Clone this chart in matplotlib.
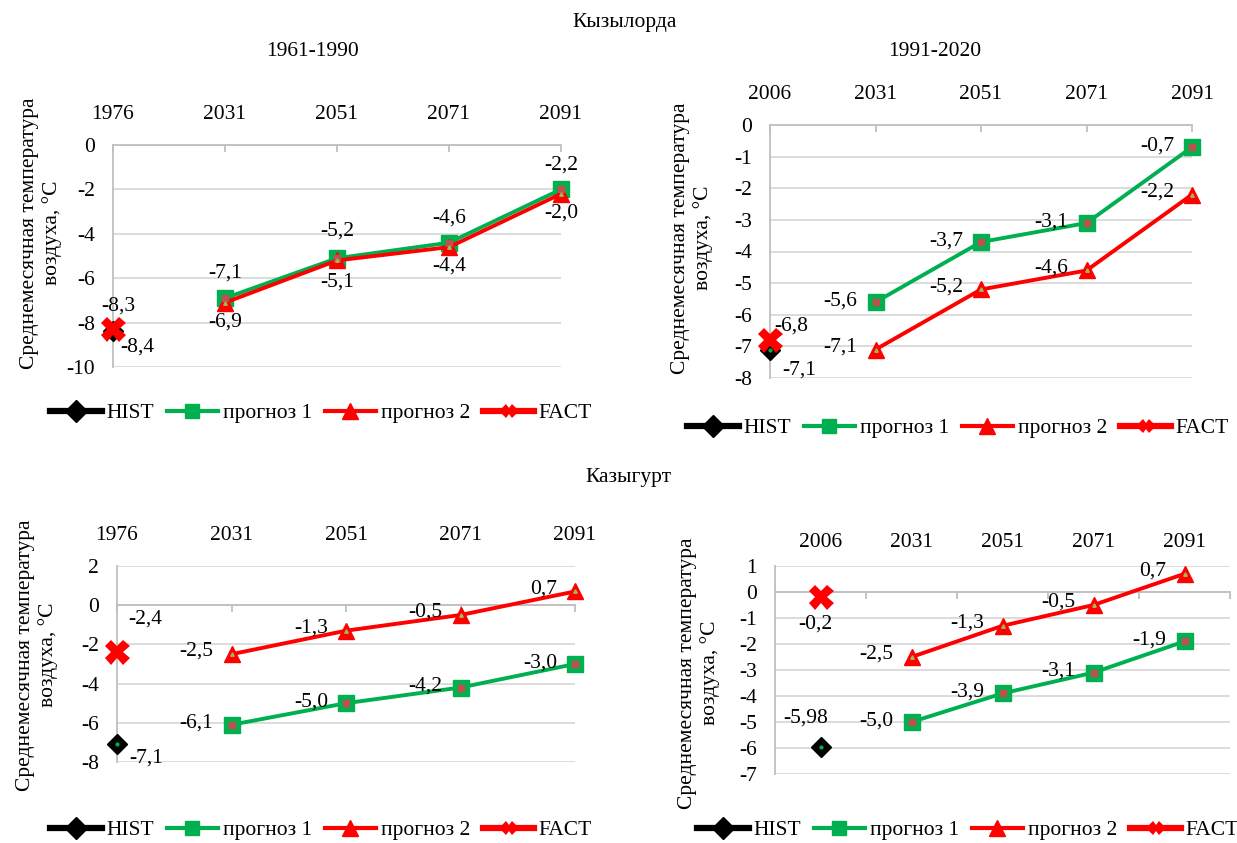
import matplotlib.pyplot as plt
from matplotlib.lines import Line2D

plt.rcParams['font.family'] = ['Liberation Serif', 'DejaVu Serif']
plt.rcParams['font.size'] = 15.5

W, H = 1237, 843

# Кызылорда, 1961-1990
kz1_years = ['1976', '2031', '2051', '2071', '2091']
kz1_hist = -8.4
kz1_fact = -8.3
kz1_p1 = [-6.9, -5.1, -4.4, -2.0]
kz1_p2 = [-7.1, -5.2, -4.6, -2.2]

# Кызылорда, 1991-2020
kz2_years = ['2006', '2031', '2051', '2071', '2091']
kz2_hist = -7.1
kz2_fact = -6.8
kz2_p1 = [-5.6, -3.7, -3.1, -0.7]
kz2_p2 = [-7.1, -5.2, -4.6, -2.2]

# Казыгурт, 1961-1990
kg1_years = ['1976', '2031', '2051', '2071', '2091']
kg1_hist = -7.1
kg1_fact = -2.4
kg1_p1 = [-6.1, -5.0, -4.2, -3.0]
kg1_p2 = [-2.5, -1.3, -0.5, 0.7]

# Казыгурт, 1991-2020
kg2_years = ['2006', '2031', '2051', '2071', '2091']
kg2_hist = -5.98
kg2_fact = -0.2
kg2_p1 = [-5.0, -3.9, -3.1, -1.9]
kg2_p2 = [-2.5, -1.3, -0.5, 0.7]

GREEN = '#00b050'
RED = '#ff0000'
GRID = '#d9d9d9'
AXIS = '#bfbfbf'
YLABEL = 'Среднемесячная температура\nвоздуха, °C'
FS = 15.5


def fmt(v):
    s = f'{v:.1f}' if round(v, 1) == v else f'{v:.2f}'
    return s.replace('.', ',')


def px_axes(fig, x0, y0, x1, y1):
    """Axes from pixel box (top-left origin)."""
    return fig.add_axes([x0 / W, 1 - y1 / H, (x1 - x0) / W, (y1 - y0) / H])


def label(ax, x, y, off, ha='center'):
    ax.annotate(fmt(y), (x, y), xytext=off, textcoords='offset points',
                ha=ha, va='center', fontsize=FS, zorder=10)


def draw_panel(ax, years, hist, fact, p1, p2, ylim, ystep, offs, between=False):
    xs = list(range(len(years)))
    fx = xs[1:]

    # forecast 1 - green squares with dark red centre
    ax.plot(fx, p1, color=GREEN, lw=2.8, marker='s', ms=11, mfc=GREEN,
            mec=GREEN, zorder=4, clip_on=False)
    ax.plot(fx, p1, ls='none', marker='s', ms=4, color='#c0504d', zorder=5,
            clip_on=False)
    # forecast 2 - red triangles
    ax.plot(fx, p2, color=RED, lw=2.8, marker='^', ms=12, mfc=RED,
            mec=RED, zorder=4, clip_on=False)
    ax.plot(fx, p2, ls='none', marker='^', ms=2.5, color='#9bbb59', zorder=5,
            clip_on=False)
    # hist / fact single points
    ax.plot([xs[0]], [hist], ls='none', marker='D', ms=10, color='black',
            zorder=6, clip_on=False)
    ax.plot([xs[0]], [hist], ls='none', marker='o', ms=2, color=GREEN,
            zorder=6, clip_on=False)
    ax.plot([xs[0]], [fact], ls='none', marker='X', ms=18, color=RED, mew=0,
            zorder=7, clip_on=False)

    for x, v in zip(fx, p1):
        label(ax, x, v, offs['p1'][:2], offs['p1'][2])
    for x, v in zip(fx, p2):
        label(ax, x, v, offs['p2'][:2], offs['p2'][2])
    label(ax, xs[0], hist, offs['hist'][:2], offs['hist'][2])
    label(ax, xs[0], fact, offs['fact'][:2], offs['fact'][2])

    ax.set_ylim(*ylim)
    yt = []
    v = ylim[1]
    while v >= ylim[0] - 1e-9:
        yt.append(v)
        v -= ystep
    ax.set_yticks(yt)
    ax.set_yticklabels([f'{t:g}' for t in yt])
    ax.yaxis.grid(True, color=GRID, lw=1.3)
    ax.set_axisbelow(True)

    ax.set_xticks(xs)
    ax.set_xticklabels(years)
    if between:
        ax.set_xlim(-0.5, len(xs) - 0.5)
        ax.set_xticks([x + 0.5 for x in xs], minor=True)
        ax.tick_params(axis='x', which='major', length=0)
        ax.tick_params(axis='x', which='minor', length=5, width=1.3,
                       color=AXIS, direction='out', top=False, bottom=True)
    else:
        ax.set_xlim(0, len(xs) - 1)
        ax.tick_params(axis='x', which='major', length=5, width=1.3,
                       color=AXIS, direction='out')

    ax.tick_params(axis='x', which='major', top=False, bottom=True,
                   labeltop=True, labelbottom=False, pad=10)
    ax.tick_params(axis='y', length=0, pad=13)

    for s in ('top', 'right'):
        ax.spines[s].set_visible(False)
    ax.spines['bottom'].set_position(('data', 0))
    ax.spines['bottom'].set_color(AXIS)
    ax.spines['bottom'].set_linewidth(1.3)
    ax.spines['left'].set_color(AXIS)
    ax.spines['left'].set_linewidth(1.3)
    ax.patch.set_alpha(0)


def add_legend(fig, cx, cy):
    handles = [
        Line2D([], [], color='black', lw=4.5, marker='D', ms=11),
        Line2D([], [], color=GREEN, lw=3, marker='s', ms=10, mfc=GREEN),
        Line2D([], [], color=RED, lw=3, marker='^', ms=11),
        Line2D([], [], color=RED, lw=4.5, marker='X', ms=10, mew=0),
    ]
    fig.legend(handles, ['HIST', 'прогноз 1', 'прогноз 2', 'FACT'],
               loc='center', bbox_to_anchor=(cx / W, 1 - cy / H), ncol=4,
               frameon=False, handlelength=2.4, handletextpad=0.2,
               columnspacing=0.6, fontsize=FS, borderpad=0, borderaxespad=0)


fig = plt.figure(figsize=(W / 100, H / 100), dpi=100)

ax1 = px_axes(fig, 113, 145, 561, 367)
draw_panel(ax1, kz1_years, kz1_hist, kz1_fact, kz1_p1, kz1_p2, (-10, 0), 2,
           {'p1': (0, -17, 'center'), 'p2': (0, 21, 'center'),
            'hist': (5, -11, 'left'), 'fact': (4, 17, 'center')})

ax2 = px_axes(fig, 770, 125, 1192, 378)
draw_panel(ax2, kz2_years, kz2_hist, kz2_fact, kz2_p1, kz2_p2, (-8, 0), 1,
           {'p1': (-13, 1, 'right'), 'p2': (-13, 2, 'right'),
            'hist': (9, -15, 'left'), 'fact': (3, 10, 'left')})

ax3 = px_axes(fig, 117, 566, 575, 762)
draw_panel(ax3, kg1_years, kg1_hist, kg1_fact, kg1_p1, kg1_p2, (-8, 2), 2,
           {'p1': (-13, 1, 'right'), 'p2': (-13, 2, 'right'),
            'hist': (9, -10, 'left'), 'fact': (8, 24, 'left')})

ax4 = px_axes(fig, 775, 566, 1230, 774)
draw_panel(ax4, kg2_years, kg2_hist, kg2_fact, kg2_p1, kg2_p2, (-7, 1), 1,
           {'p1': (-13, 1, 'right'), 'p2': (-13, 2, 'right'),
            'hist': (-11, 21, 'center'), 'fact': (-4, -19, 'center')},
           between=True)

# titles
fig.text(625 / W, 1 - 22 / H, 'Кызылорда', ha='center', va='center', fontsize=FS)
fig.text(313 / W, 1 - 52 / H, '1961-1990', ha='center', va='center', fontsize=FS)
fig.text(935 / W, 1 - 52 / H, '1991-2020', ha='center', va='center', fontsize=FS)
fig.text(628 / W, 1 - 478 / H, 'Казыгурт', ha='center', va='center', fontsize=FS)

# y labels
for x, y in [(41, 233), (692, 238), (37, 655), (699, 673)]:
    fig.text(x / W, 1 - y / H, YLABEL, rotation=90, ha='center', va='center',
             fontsize=FS, multialignment='center', linespacing=1.25)

add_legend(fig, 321, 413)
add_legend(fig, 958, 428)
add_legend(fig, 321, 830)
add_legend(fig, 968, 830)

fig.savefig('out.png', dpi=100)
